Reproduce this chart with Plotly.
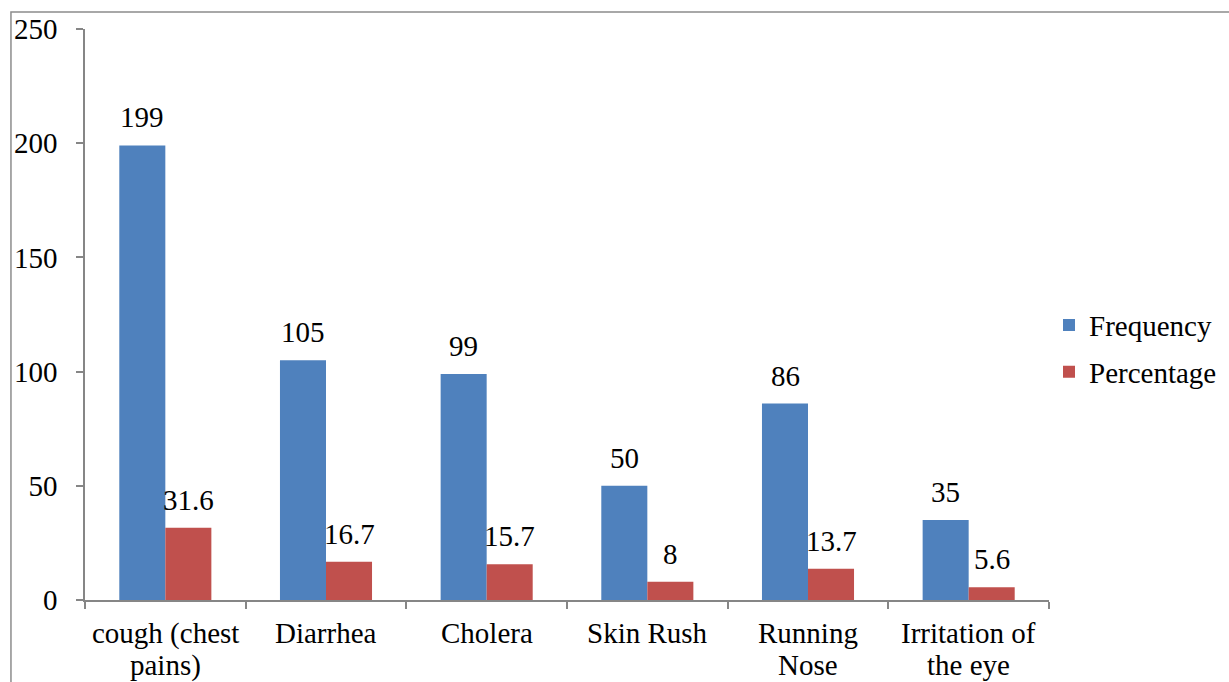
import plotly.graph_objects as go

categories = ["cough (chest<br>pains)", "Diarrhea", "Cholera", "Skin Rush", "Running<br>Nose", "Irritation of<br>the eye"]
frequency = [199, 105, 99, 50, 86, 35]
percentage = [31.6, 16.7, 15.7, 8, 13.7, 5.6]
freq_labels = ["199", "105", "99", "50", "86", "35"]
pct_labels = ["31.6", "16.7", "15.7", "8", "13.7", "5.6"]

FONT = "Liberation Serif"
AX = "#868686"
FS = 29

fig = go.Figure()
fig.add_trace(go.Bar(x=categories, y=frequency, name="Frequency", marker_color="#4F81BD",
                     marker_line_width=0, legendgroup="f"))
fig.add_trace(go.Bar(x=categories, y=percentage, name="Percentage", marker_color="#C0504D",
                     marker_line_width=0, legendgroup="p"))

tf = dict(family=FONT, size=FS, color="black")
annotations = []
for c, v, t in zip(categories, frequency, freq_labels):
    annotations.append(dict(x=c, y=v, text=t, xref="x", yref="y", showarrow=False,
                            xshift=-23, yshift=10, yanchor="bottom", font=tf))
for c, v, t in zip(categories, percentage, pct_labels):
    annotations.append(dict(x=c, y=v, text=t, xref="x", yref="y", showarrow=False,
                            xshift=23, yshift=10, yanchor="bottom", font=tf))
# category labels (two lines with tight spacing, as in the original)
for c in categories:
    for i, line in enumerate(c.split("<br>")):
        annotations.append(dict(x=c, y=0, text=line, xref="x", yref="paper", showarrow=False,
                                yanchor="middle", yshift=-33 - 32 * i, font=tf))

fig.update_layout(
    template="none",
    width=1229, height=682,
    margin=dict(l=85, r=180, t=29, b=82, autoexpand=False),
    paper_bgcolor="white", plot_bgcolor="white",
    barmode="group", bargap=0.427, bargroupgap=0,
    font=tf,
    showlegend=True,
    legend=dict(x=1.0, y=0.44, xanchor="left", yanchor="middle",
                font=tf, itemwidth=30, traceorder="grouped", tracegroupgap=6,
                bgcolor="rgba(0,0,0,0)"),
    annotations=annotations,
    xaxis=dict(showline=True, linecolor=AX, linewidth=1.5, ticks="outside", tickson="boundaries",
               ticklen=7, tickcolor=AX, tickwidth=1.5, showgrid=False, showticklabels=False,
               automargin=False),
    yaxis=dict(range=[0, 250], dtick=50, showline=True, linecolor=AX, linewidth=1.5,
               ticks="outside", ticklen=7, tickcolor=AX, tickwidth=1.5, showgrid=False,
               zeroline=False, ticklabelstandoff=13, automargin=False, tickfont=tf),
    shapes=[dict(type="rect", xref="paper", yref="paper", x0=-0.0768, x1=1.5, y0=-1, y1=1.0298,
                 line=dict(color="#8c8c8c", width=1.5), fillcolor="rgba(0,0,0,0)", layer="below")],
)

fig.write_html("out.html")
